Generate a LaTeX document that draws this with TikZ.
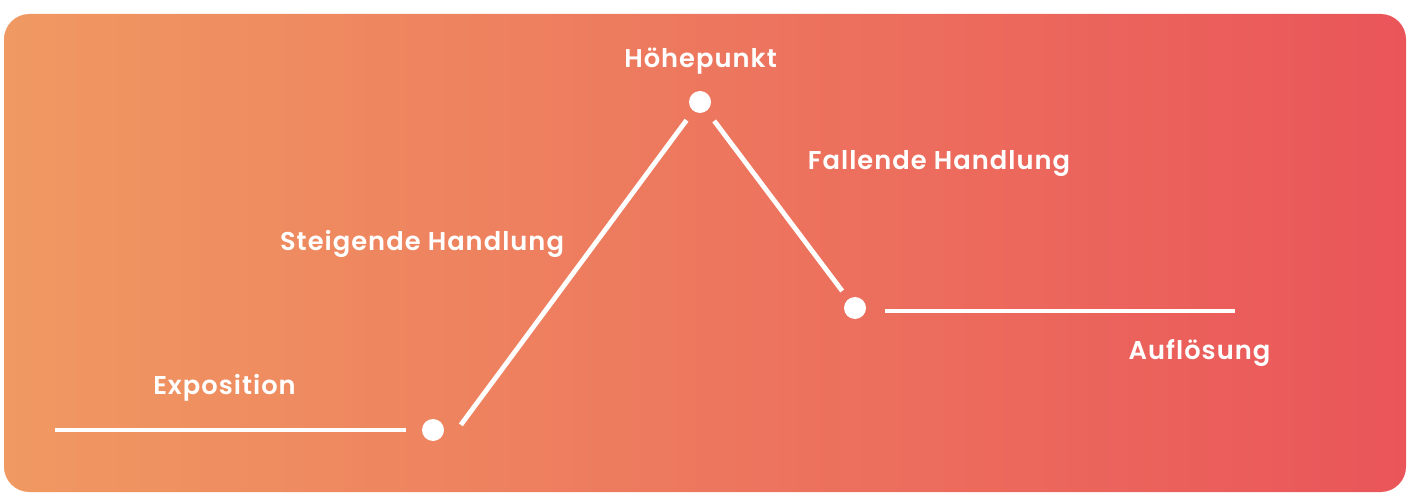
\documentclass[tikz,border=0pt]{standalone}
\usepackage{fontspec}
\setmainfont{Poppins SemiBold}[LetterSpace=4]
\definecolor{bgleft}{RGB}{240,153,98}
\definecolor{bgright}{RGB}{234,85,90}
\begin{document}
\begin{tikzpicture}[x=0.75pt,y=0.75pt,yscale=-1,
  dot/.style={circle, fill=white, inner sep=0pt, minimum size=16.5pt},
  arcline/.style={draw=white, line width=3.6pt},
  lbl/.style={text=white, font=\fontsize{19.3}{22}\selectfont, inner sep=0pt, anchor=base}]
\useasboundingbox (0,0) rectangle (1412,502);

%Shape: Rounded Rect
\shade [left color=bgleft, right color=bgright, rounded corners=19pt] (4,14) rectangle (1406,492);

%Points
\node [dot] (expo) at (433,430) {};
\node [dot] (peak) at (700,102) {};
\node [dot] (fall) at (855,308) {};
\coordinate (start) at (55,430);
\coordinate (rise) at (457,430);
\coordinate (finish) at (1235,311);

%Lines
\draw [arcline] (start) -- ([xshift=-20.25pt]expo.center);
\draw [arcline, shorten <=4.8pt, shorten >=17pt] (rise) -- (peak.center);
\draw [arcline, shorten <=17.7pt, shorten >=16pt] (peak.center) -- (fall.center);
\draw [arcline] ([xshift=22.5pt]fall.center |- finish) -- (finish);

%Labels
\node [lbl] (expolbl) at (224.5,394) {Exposition};
\node [lbl] (riselbl) at (422,251) {Steigende Handlung};
\node [lbl] (peaklbl) at (700.5,68) {Höhepunkt};
\node [lbl] (falllbl) at (939,170) {Fallende Handlung};
\node [lbl] (endlbl) at (1199.5,359) {Auflösung};

\end{tikzpicture}
\end{document}
